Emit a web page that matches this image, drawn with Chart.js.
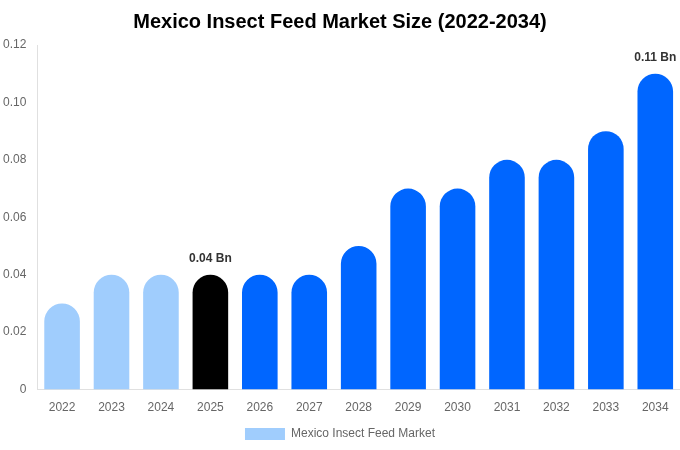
<!DOCTYPE html>
<html>
<head>
<meta charset="utf-8">
<script src="https://cdn.jsdelivr.net/npm/chart.js@4.4.0/dist/chart.umd.min.js"></script>
<style>
  html, body { margin: 0; padding: 0; background: #fff; }
  #wrap { width: 680px; height: 450px; }
</style>
</head>
<body>
<div id="wrap"><canvas id="chart"></canvas></div>
<script>
// 데이터
const years = ['2022', '2023', '2024', '2025', '2026', '2027', '2028', '2029', '2030', '2031', '2032', '2033', '2034'];
const marketSize = [0.03, 0.04, 0.04, 0.04, 0.04, 0.04, 0.05, 0.07, 0.07, 0.08, 0.08, 0.09, 0.11];
const barColors = ['#a0cdfd', '#a0cdfd', '#a0cdfd', '#000000', '#0066ff', '#0066ff', '#0066ff', '#0066ff', '#0066ff', '#0066ff', '#0066ff', '#0066ff', '#0066ff'];
const labelled = { 3: '0.04 Bn', 12: '0.11 Bn' };

Chart.defaults.font.family = '"Liberation Sans", Arial, sans-serif';

// 막대 위 라벨
const barLabels = {
    id: 'barLabels',
    afterDatasetsDraw(chart) {
        const ctx = chart.ctx;
        const meta = chart.getDatasetMeta(0);
        ctx.save();
        ctx.font = 'bold 12px "Liberation Sans", Arial, sans-serif';
        ctx.fillStyle = '#333';
        ctx.textAlign = 'center';
        ctx.textBaseline = 'bottom';
        Object.keys(labelled).forEach(i => {
            const bar = meta.data[i];
            ctx.fillText(labelled[i], bar.x, bar.y - 10);
        });
        ctx.restore();
    }
};

new Chart(document.getElementById('chart').getContext('2d'), {
    type: 'bar',
    data: {
        labels: years,
        datasets: [{
            label: 'Mexico Insect Feed Market',
            data: marketSize,
            backgroundColor: barColors,
            borderRadius: { topLeft: 18, topRight: 18 },
            borderSkipped: 'bottom',
            barPercentage: 0.72,
            categoryPercentage: 1
        }]
    },
    options: {
        responsive: true,
        maintainAspectRatio: false,
        animation: false,
        layout: { padding: { left: 0, right: 0, top: 0, bottom: 0 } },
        plugins: {
            title: {
                display: true,
                text: 'Mexico Insect Feed Market Size (2022-2034)',
                color: '#000',
                font: { size: 20, weight: 'bold' },
                padding: { top: 10, bottom: 11 }
            },
            legend: {
                position: 'bottom',
                labels: {
                    color: '#666',
                    boxWidth: 40,
                    boxHeight: 12,
                    font: { size: 12 },
                    generateLabels: () => [{
                        text: 'Mexico Insect Feed Market',
                        fillStyle: '#a0cdfd',
                        strokeStyle: '#a0cdfd',
                        lineWidth: 0,
                        fontColor: '#666'
                    }]
                }
            },
            tooltip: { enabled: false }
        },
        scales: {
            x: {
                grid: { display: false },
                border: { color: '#e0e0e0' },
                ticks: { color: '#666', font: { size: 12 } }
            },
            y: {
                min: 0,
                max: 0.12,
                ticks: {
                    stepSize: 0.02,
                    color: '#666',
                    font: { size: 12 },
                    callback: v => v === 0 ? '0' : v.toFixed(2)
                },
                grid: { display: false },
                border: { color: '#e0e0e0' }
            }
        }
    },
    plugins: [barLabels]
});
</script>
</body>
</html>
